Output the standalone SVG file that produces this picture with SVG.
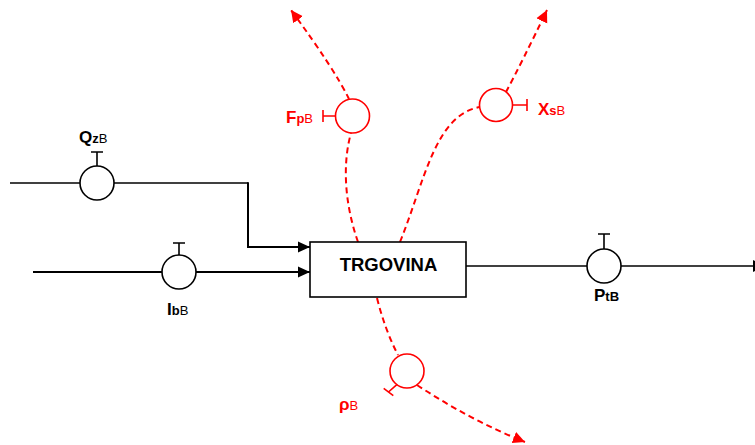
<svg xmlns="http://www.w3.org/2000/svg" width="755" height="445" viewBox="0 0 755 445">
<style>
.k{fill:none;stroke:#000;stroke-width:1.6}
.ka{fill:none;stroke:#000;stroke-width:2}
.r{fill:none;stroke:#FF0000;stroke-width:1.6}
.rd{fill:none;stroke:#FF0000;stroke-width:2;stroke-dasharray:6 4}
.cb{fill:#fff;stroke:#000;stroke-width:1.6}
.cr{fill:#fff;stroke:#FF0000;stroke-width:1.6}
text{font-family:"Liberation Sans",Arial,sans-serif}
.big{font-size:17px;font-weight:bold}
.sb{font-size:13px;font-weight:bold}
.sr{font-size:13px;font-weight:normal}
.lk{fill:#000}
.lr{fill:#FF0000}
</style>
<defs>
<marker id="ak" markerUnits="userSpaceOnUse" markerWidth="14" markerHeight="12" refX="12" refY="6" orient="auto">
<path d="M0,0.5 L12,6 L0,11.5 Z" fill="#000"/>
</marker>
<marker id="ar" markerUnits="userSpaceOnUse" markerWidth="14" markerHeight="14" refX="12" refY="7" orient="auto">
<path d="M0,1 L12,7 L0,13 Z" fill="#FF0000"/>
</marker>
</defs>
<g id="connectors">
<path class="k" d="M10,183 L248,183"/>
<path class="ka" d="M248,182.2 L248,247 L310,247" marker-end="url(#ak)"/>
<path class="ka" d="M33,272 L310,272" marker-end="url(#ak)"/>
<path class="k" d="M466,266 L753,266"/>
<polygon points="753,260 765,266 753,272" fill="#000"/>
<path class="rd" d="M358,242 C345,205 342,165 351,133"/>
<path class="rd" d="M349,99 Q335,70 291,10" marker-end="url(#ar)"/>
<path class="rd" d="M400,242 C425,180 435,115 480,107"/>
<path class="rd" d="M506,92 Q522,62 547,10" marker-end="url(#ar)"/>
<path class="rd" d="M377,298 Q385,330 398,355"/>
<path class="rd" d="M417,385 Q470,420 525,442" marker-end="url(#ar)"/>
</g>
<g id="trgovina">
<rect x="310" y="242" width="156" height="55" fill="#fff" stroke="#000" stroke-width="1.6"/>
<text x="388.5" y="271" text-anchor="middle" style="font-size:18.5px;font-weight:bold">TRGOVINA</text>
</g>
<g id="QzB">
<path class="k" d="M97,166 L97,152 M91,152 L103,152"/>
<circle class="cb" cx="97" cy="183" r="17"/>
<text x="79" y="143" class="lk"><tspan class="big">Q</tspan><tspan class="sb">z</tspan><tspan class="sr">B</tspan></text>
</g>
<g id="IbB">
<path class="k" d="M179,255 L179,243 M173,243 L185,243"/>
<circle class="cb" cx="179" cy="272" r="17"/>
<text x="167" y="315" class="lk"><tspan class="big">I</tspan><tspan class="sb">b</tspan><tspan class="sr">B</tspan></text>
</g>
<g id="PtB">
<path class="k" d="M604,249 L604,234 M598,234 L610,234"/>
<circle class="cb" cx="604" cy="266" r="17"/>
<text x="594" y="301" class="lk"><tspan class="big">P</tspan><tspan class="sb">tB</tspan></text>
</g>
<g id="FpB">
<path class="r" d="M336,116 L323,116 M323,110 L323,122"/>
<circle class="cr" cx="352.5" cy="116" r="17"/>
<text x="286" y="123" class="lr"><tspan class="big">F</tspan><tspan class="sb">p</tspan><tspan class="sr">B</tspan></text>
</g>
<g id="XsB">
<path class="r" d="M512.5,105 L527,105 M527,99 L527,111"/>
<circle class="cr" cx="496" cy="105" r="16.5"/>
<text x="538" y="115" class="lr"><tspan class="big">X</tspan><tspan class="sb">s</tspan><tspan class="sr">B</tspan></text>
</g>
<g id="rhoB">
<path class="r" d="M396.8,384.6 L388.5,392 M383.7,388.4 L393.3,395.6"/>
<circle class="cr" cx="407" cy="371" r="17"/>
<text x="339" y="410" class="lr"><tspan class="big">ρ</tspan><tspan class="sr">B</tspan></text>
</g>
</svg>
